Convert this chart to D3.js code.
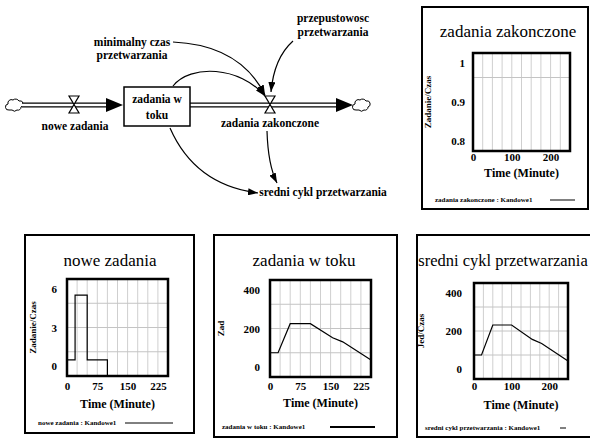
<!DOCTYPE html>
<html>
<head>
<meta charset="utf-8">
<script src="https://cdn.jsdelivr.net/npm/d3@7"></script>
<style>
body { margin: 0; background: #fff; }
svg { display: block; }
</style>
</head>
<body>
<div id="model"></div>
<script>
/**
  Data (time in minutes)
*/
const timeDomain = [0, 250];
const timeGrid = [25, 50, 75, 100, 125, 150, 175, 200, 225];
const ticksHundred = [0, 100, 200];
const ticksSeventyFive = [0, 75, 150, 225];

const zakTime = [0, 250];
const zakValues = [1, 1];
const zakYTicks = [0.8, 0.9, 1];
const zakYGrid = [0.95];

const noweTime = [0, 20, 20, 50, 50, 100, 100, 250];
const noweValues = [1, 1, 5, 5, 1, 1, 0, 0];
const noweYTicks = [0, 3, 6];
const noweYGrid = [1.5, 3, 4.5];

const tokuTime = [0, 20, 50, 100, 155, 180, 250];
const tokuValues = [100, 100, 220, 220, 162, 145, 70];
const tokuYTicks = [0, 200, 400];
const tokuYGrid = [100, 200, 300];

const cyklTime = [0, 20, 50, 100, 155, 180, 250];
const cyklValues = [100, 100, 225, 225, 165, 148, 75];
const cyklYTicks = [0, 200, 400];
const cyklYGrid = [100, 200, 300];

const FONT = "'Liberation Serif'";

var svg = d3.select("#model").append("svg")
  .attr("width", 590)
  .attr("height", 441);

var defs = svg.append("defs");
defs.append("marker")
  .attr("id", "arr")
  .attr("markerUnits", "userSpaceOnUse")
  .attr("markerWidth", 10).attr("markerHeight", 7)
  .attr("refX", 10).attr("refY", 3.5)
  .attr("orient", "auto")
  .append("path").attr("d", "M0,0 L10,3.5 L0,7 Z").attr("fill", "#000");

/**
  Stock and flow diagram
*/
var dia = svg.append("g");

function cloud(cx, cy) {
  dia.append("path")
    .attr("d", "M" + (cx - 6) + "," + (cy + 5) +
      " a3,3 0 0 1 -1,-6 a3.5,3.5 0 0 1 5,-4 a4,4 0 0 1 6,1 a3,3 0 0 1 2,6" +
      " a3,3 0 0 1 -4,3 a3.5,3.5 0 0 1 -5,0 z")
    .attr("fill", "#fff").attr("stroke", "#000").attr("stroke-width", 1);
}

function pipe(x1, x2, y) {
  dia.append("line").attr("x1", x1).attr("x2", x2).attr("y1", y).attr("y2", y)
    .attr("stroke", "#000").attr("stroke-width", 5);
  dia.append("line").attr("x1", x1).attr("x2", x2 + 1).attr("y1", y).attr("y2", y)
    .attr("stroke", "#fff").attr("stroke-width", 2.6);
  dia.append("path")
    .attr("d", "M" + (x2 - 1) + "," + (y - 7) + " L" + (x2 + 16) + "," + y + " L" + (x2 - 1) + "," + (y + 7) + " Z")
    .attr("fill", "#000");
}

function valve(cx, cy) {
  dia.append("path")
    .attr("d", "M" + (cx - 5) + "," + (cy - 9) + " L" + (cx + 5) + "," + (cy - 9) + " L" + (cx - 5) + "," + (cy + 8) +
      " L" + (cx + 5) + "," + (cy + 8) + " Z")
    .attr("fill", "#fff").attr("stroke", "#000").attr("stroke-width", 1.2);
}

function label(lines, cx, y0, step) {
  lines.forEach(function(t, i) {
    dia.append("text")
      .attr("x", cx).attr("y", y0 + i * step)
      .attr("text-anchor", "middle")
      .attr("font-size", "11.5px").attr("font-weight", "bold")
      .text(t);
  });
}

cloud(15, 105);
pipe(22, 107, 105);
pipe(190, 337, 105);
cloud(362, 105);
valve(74, 105);
valve(270, 105);

dia.append("rect")
  .attr("x", 124).attr("y", 87).attr("width", 66).attr("height", 39)
  .attr("fill", "#fff").attr("stroke", "#000").attr("stroke-width", 1.5);

label(["zadania w", "toku"], 157, 103, 16);
label(["nowe zadania"], 75, 130, 0);
label(["zadania zakonczone"], 270, 127, 0);
label(["minimalny czas", "przetwarzania"], 132, 46, 13);
label(["przepustowosc", "przetwarzania"], 333, 22, 14);
label(["sredni cykl przetwarzania"], 323, 196, 0);

var links = [
  "M173,42 Q240,45 265,95",
  "M173,86 C190,64 240,66 265,96",
  "M293,41 Q274,58 271,92",
  "M170,128 Q195,185 258,193",
  "M267,131 Q268,165 277,183"
];
dia.selectAll(".link").data(links).enter().append("path")
  .attr("class", "link")
  .attr("d", function(d) { return d; })
  .attr("fill", "none").attr("stroke", "#000").attr("stroke-width", 1.2)
  .attr("marker-end", "url(#arr)");

/**
  Graph panels
*/
var panels = [
  {
    title: "zadania zakonczone", titleX: 508, titleY: 37, titleSize: 17,
    frame: [422, 7, 588, 209], plot: [473, 570, 53, 151],
    time: zakTime, values: zakValues, yDomain: [0.8, 1],
    yTicks: zakYTicks, yGrid: zakYGrid, xTicks: ticksHundred, yPad: 8,
    unit: "Zadanie/Czas", unitX: 428, xTickTop: 153, timeY: 177,
    legend: "zadania zakonczone : Kandowe1", legendX: 435, legendY: 202, legendLine: [550, 575], legendW: 1
  },
  {
    title: "nowe zadania", titleX: 110, titleY: 266, titleSize: 17,
    frame: [25, 235, 194, 433], plot: [67, 168, 279, 376],
    time: noweTime, values: noweValues, yDomain: [0, 6],
    yTicks: noweYTicks, yGrid: noweYGrid, xTicks: ticksSeventyFive, yPad: 10,
    unit: "Zadanie/Czas", unitX: 33, xTickTop: 382, timeY: 408,
    legend: "nowe zadania : Kandowe1", legendX: 38, legendY: 425, legendLine: [125, 173], legendW: 1
  },
  {
    title: "zadania w toku", titleX: 304, titleY: 266, titleSize: 17,
    frame: [214, 235, 397, 437], plot: [270, 371, 280, 377],
    time: tokuTime, values: tokuValues, yDomain: [0, 400],
    yTicks: tokuYTicks, yGrid: tokuYGrid, xTicks: ticksSeventyFive, yPad: 10,
    unit: "Zad", unitX: 221, xTickTop: 382, timeY: 407,
    legend: "zadania w toku : Kandowe1", legendX: 222, legendY: 429, legendLine: [330, 375], legendW: 2
  },
  {
    title: "sredni cykl przetwarzania", titleX: 503, titleY: 266, titleSize: 16.5,
    frame: [417, 235, 592, 437], plot: [474, 568, 283, 379],
    time: cyklTime, values: cyklValues, yDomain: [0, 400],
    yTicks: cyklYTicks, yGrid: cyklYGrid, xTicks: ticksHundred, yPad: 12,
    unit: "Jed/Czas", unitX: 421, xTickTop: 382, timeY: 409,
    legend: "sredni cykl przetwarzania : Kandowe1", legendX: 425, legendY: 430, legendLine: [560, 566], legendW: 1
  }
];

function drawPanel(p) {
  var g = svg.append("g");
  var l = p.plot[0], r = p.plot[1], t = p.plot[2], b = p.plot[3];

  g.append("rect")
    .attr("x", p.frame[0]).attr("y", p.frame[1])
    .attr("width", p.frame[2] - p.frame[0]).attr("height", p.frame[3] - p.frame[1])
    .attr("fill", "#fff").attr("stroke", "#000").attr("stroke-width", 2);

  var x = d3.scaleLinear().domain(timeDomain).range([l, r]);
  var y = d3.scaleLinear().domain(p.yDomain).range([b, t]);

  g.append("text")
    .attr("x", p.titleX).attr("y", p.titleY)
    .attr("text-anchor", "middle").attr("font-size", p.titleSize + "px")
    .text(p.title);

  // grid
  g.selectAll(".vg").data(timeGrid).enter().append("line")
    .attr("class", "vg")
    .attr("x1", function(d) { return x(d); }).attr("x2", function(d) { return x(d); })
    .attr("y1", t).attr("y2", b)
    .attr("stroke", "#cfcfcf").attr("stroke-width", 1);
  g.selectAll(".hg").data(p.yGrid).enter().append("line")
    .attr("class", "hg")
    .attr("x1", l).attr("x2", r)
    .attr("y1", function(d) { return y(d); }).attr("y2", function(d) { return y(d); })
    .attr("stroke", "#c4c4c4").attr("stroke-width", 1);

  // series
  var line = d3.line()
    .x(function(d, i) { return x(p.time[i]); })
    .y(function(d) { return y(d); });
  g.append("path").datum(p.values)
    .attr("d", line)
    .attr("fill", "none").attr("stroke", "#000").attr("stroke-width", 1.2);

  g.append("rect")
    .attr("x", l).attr("y", t).attr("width", r - l).attr("height", b - t)
    .attr("fill", "none").attr("stroke", "#000").attr("stroke-width", 2.5);

  // axes
  var xa = g.append("g")
    .attr("transform", "translate(0," + p.xTickTop + ")")
    .call(d3.axisBottom(x).tickValues(p.xTicks).tickSize(0).tickPadding(0));
  xa.select(".domain").remove();
  xa.selectAll("text")
    .attr("font-size", "11px").attr("font-weight", "bold")
    .attr("fill", "#000");

  var ya = g.append("g")
    .attr("transform", "translate(" + l + ",0)")
    .call(d3.axisLeft(y).tickValues(p.yTicks).tickSize(0).tickPadding(p.yPad).tickFormat(d3.format("~g")));
  ya.select(".domain").remove();
  ya.selectAll("text")
    .attr("font-size", "11px").attr("font-weight", "bold")
    .attr("fill", "#000")
    .attr("y", function(d) {
      if (d === p.yDomain[1]) return 10;
      if (d === p.yDomain[0]) return -10;
      return 0;
    });

  g.append("text")
    .attr("transform", "translate(" + p.unitX + "," + ((t + b) / 2) + ") rotate(-90)")
    .attr("text-anchor", "middle").attr("dy", "0.35em")
    .attr("font-size", "9px").attr("font-weight", "bold")
    .text(p.unit);

  g.append("text")
    .attr("x", (l + r) / 2).attr("y", p.timeY)
    .attr("text-anchor", "middle").attr("font-size", "12px").attr("font-weight", "bold")
    .text("Time (Minute)");

  g.append("text")
    .attr("x", p.legendX).attr("y", p.legendY)
    .attr("font-size", "7px").attr("font-weight", "bold")
    .text(p.legend);
  g.append("line")
    .attr("x1", p.legendLine[0]).attr("x2", p.legendLine[1])
    .attr("y1", p.legendY - 2).attr("y2", p.legendY - 2)
    .attr("stroke", "#000").attr("stroke-width", p.legendW);
}

panels.forEach(drawPanel);

// serif face everywhere, set inline so it beats the axis defaults
svg.selectAll("text").style("font-family", FONT);
</script>
</body>
</html>
